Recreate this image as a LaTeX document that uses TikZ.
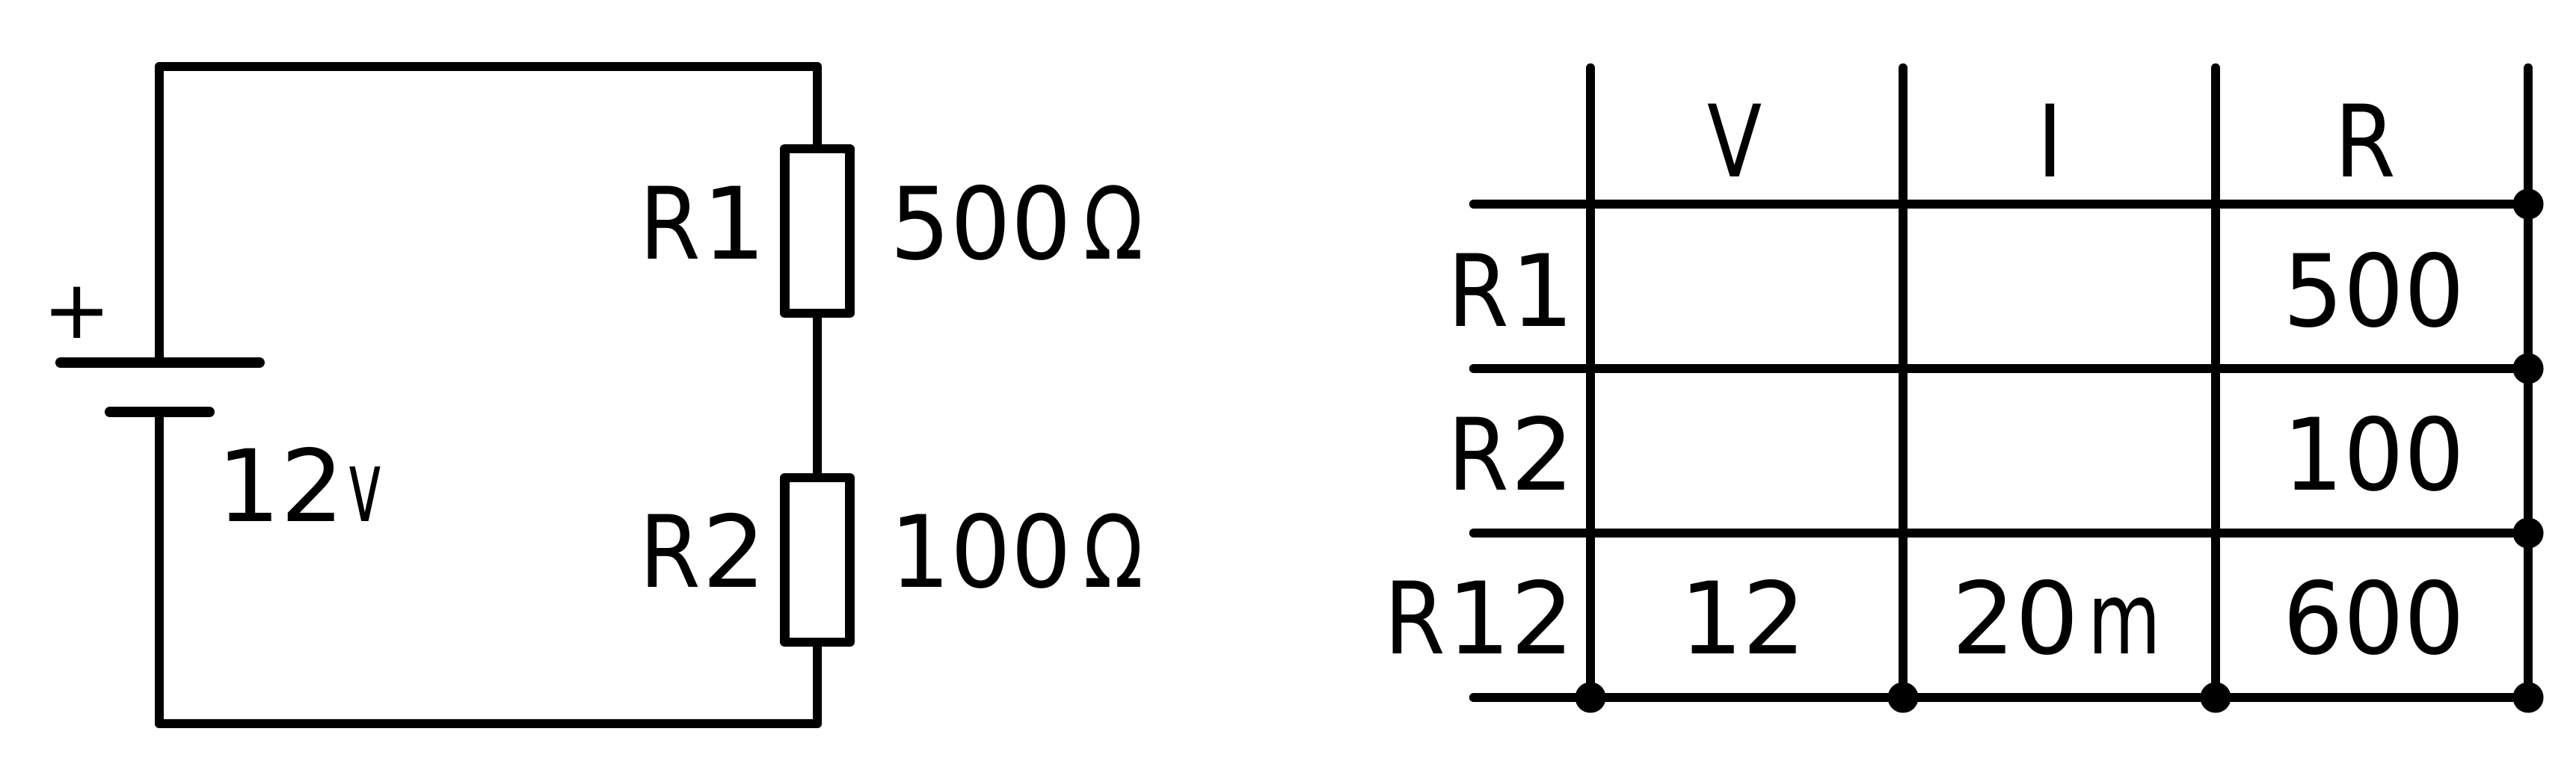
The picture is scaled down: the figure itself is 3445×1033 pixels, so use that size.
\documentclass[tikz,border=0pt]{standalone}
\usepackage{fontspec}
\setmainfont{DejaVu Sans}
\usepackage{tikz}
\usetikzlibrary{positioning,calc}
\newcommand{\nar}[2][.88]{\scalebox{#1}[1]{#2}}
\tikzset{
    wire/.style={line width=0.125cm, line cap=round, line join=round},
    plate/.style={line width=0.14cm, line cap=round},
    label/.style={inner sep=0pt, font=\fontsize{38}{38}\selectfont},
    resistor/.style={draw, line width=0.125cm, minimum width=0.87cm, minimum height=2.2cm, inner sep=0pt, line join=round},
    dot/.style={circle, fill=black, inner sep=0pt, minimum size=0.41cm}
}
\begin{document}
\begin{tikzpicture}[x=0.01cm, y=-0.01cm]
    \useasboundingbox (0, 0) rectangle (3445, 1033);
    % Circuit
    \node [resistor] (R1) at (1093, 309) {};
    \node [resistor] (R2) at (1093, 749) {};
    \coordinate (topleft) at (213, 89);
    \coordinate (bottomleft) at (213, 968);
    \coordinate (platepos) at (213, 485);
    \coordinate (plateneg) at (213, 551);
    \draw [wire] (platepos) -- (topleft) -| (R1.north);
    \draw [wire] (R1.south) -- (R2.north);
    \draw [wire] (plateneg) -- (bottomleft) -| (R2.south);
    % Battery
    \coordinate (posleft) at (81, 485); \coordinate (posright) at (347, 485);
    \coordinate (negleft) at (147, 551); \coordinate (negright) at (280, 551);
    \draw [plate] (posleft) -- (posright);
    \draw [plate] (negleft) -- (negright);
    \node [label, font=\fontsize{31}{31}\selectfont] (plus) at (103, 418) {+};
    \node [label, anchor=base west] (vbat) at (290, 697) {12\kern0.05cm\nar[.58]{v}};
    % Labels
    \node [label, anchor=base east] (R1name) at (1025, 346) {\nar{R}\kern0.02cm 1};
    \node [label, anchor=base east] (R2name) at (1025, 785) {\nar{R}\kern0.02cm 2};
    \node [label, anchor=base west] (R1val) at (1190, 346) {\nar[.95]{500}\kern0.16cm\nar[.78]{Ω}};
    \node [label, anchor=base west] (R2val) at (1190, 785) {\nar[.95]{100}\kern0.16cm\nar[.78]{Ω}};
    % Table grid
    \foreach \name/\x in {c1/2127, c2/2545, c3/2963, c4/3381} \coordinate (\name) at (\x, 91);
    \foreach \name/\y in {h1/273, h2/493, h3/713, h4/933} \coordinate (\name) at (1971, \y);
    \foreach \name in {c1, c2, c3, c4} \draw [wire] (\name) -- (\name |- h4);
    \foreach \name in {h1, h2, h3, h4} \draw [wire] (\name) -- (\name -| c4);
    % Dots
    \foreach \name in {h1, h2, h3, h4} \node [dot] (dot\name) at (\name -| c4) {};
    \foreach \name in {c1, c2, c3} \node [dot] (dot\name) at (\name |- h4) {};
    % Table text
    \node [label, anchor=base] (headV) at (2320, 236) {\nar[.8]{V}};
    \node [label, anchor=base] (headI) at (2742, 236) {\nar{I}};
    \node [label, anchor=base] (headR) at (3163, 236) {\nar{R}};
    \node [label, anchor=base east] (rowA) at (2106, 436) {\nar{R}\kern0.02cm 1};
    \node [label, anchor=base east] (rowB) at (2106, 655) {\nar{R}\kern0.02cm 2};
    \node [label, anchor=base east] (rowC) at (2106, 874) {\nar{R}\kern0.02cm 12};
    \node [label, anchor=base] (valA) at (3175, 436) {\nar[.95]{500}};
    \node [label, anchor=base] (valB) at (3175, 655) {\nar[.95]{100}};
    \node [label, anchor=base] (valC) at (3175, 874) {\nar[.95]{600}};
    \node [label, anchor=base] (valV) at (2331, 874) {12};
    \node [label, anchor=base] (valI) at (2750, 874) {20\kern0.12cm\nar[.75]{m}};
\end{tikzpicture}
\end{document}
